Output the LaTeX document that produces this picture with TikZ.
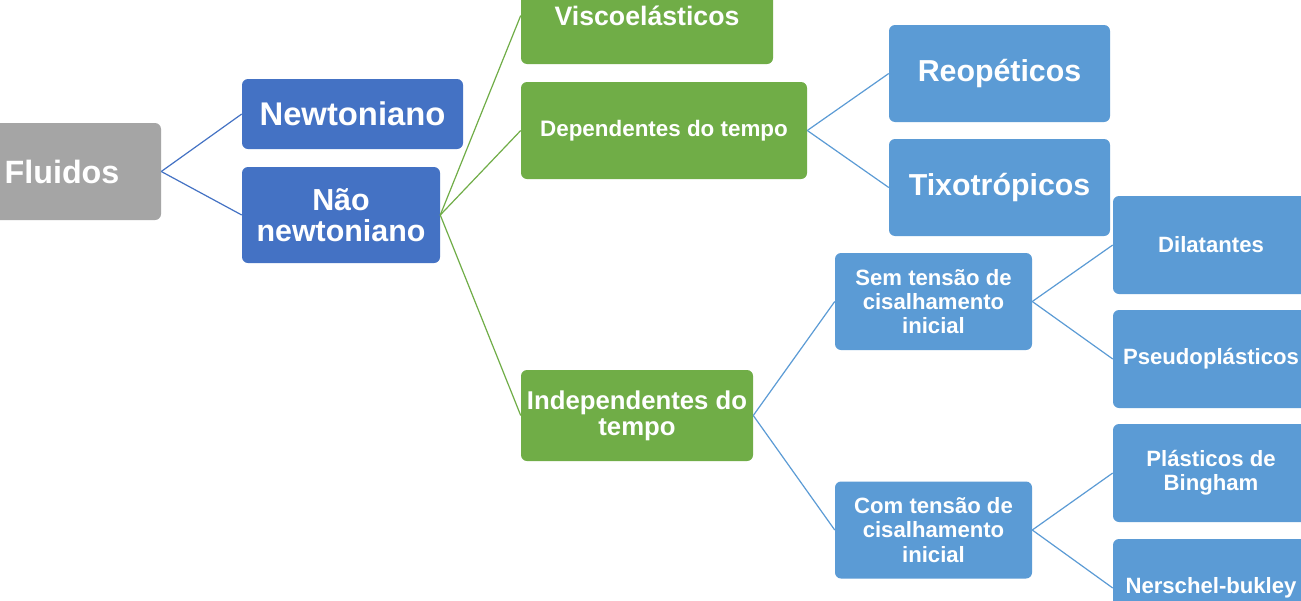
\documentclass[tikz,border=0pt]{standalone}
\usepackage{fontspec}
\setmainfont{Liberation Sans}
\definecolor{cgray}{HTML}{A5A5A5}
\definecolor{cdblue}{HTML}{4472C4}
\definecolor{cgreen}{HTML}{70AD47}
\definecolor{clblue}{HTML}{5B9BD5}
\begin{document}
\begin{tikzpicture}[x=0.75pt,y=-0.75pt,
  bx/.style={rounded corners=4.5pt, inner sep=0pt, text=white, align=center, font=\bfseries},
  gray box/.style={bx, fill=cgray},
  dblue box/.style={bx, fill=cdblue},
  green box/.style={bx, fill=cgreen},
  lblue box/.style={bx, fill=clblue},
  fmid/.style={font=\bfseries\fontsize{22.75}{24}\selectfont},
  fsmall/.style={font=\bfseries\fontsize{16.6}{18.3}\selectfont},
  conn/.style={line width=0.9pt}
]
\useasboundingbox (0,0) rectangle (1301,600);
\clip (0,0) rectangle (1301,600);
\fill[white] (0,0) rectangle (1301,600);

\node[gray box, font=\bfseries\fontsize{24.2}{26}\selectfont, minimum width=148.5pt, minimum height=72.75pt] (flu) at (62,171.5) {Fluidos};
\node[dblue box, font=\bfseries\fontsize{24.6}{26}\selectfont, minimum width=165.75pt, minimum height=52.5pt] (newt) at (352.5,114) {Newtoniano};
\node[dblue box, font=\bfseries\fontsize{22.8}{23.5}\selectfont, minimum width=148.5pt, minimum height=72pt] (nao) at (341,215) {Não\\newtoniano};

\node[green box, font=\bfseries\fontsize{20}{21}\selectfont, minimum width=189pt, minimum height=72.75pt] (visco) at (647,15.5) {Viscoelásticos};
\node[green box, font=\bfseries\fontsize{16.8}{18}\selectfont, minimum width=214.5pt, minimum height=72.75pt] (dep) at (664,130.5) {Dependentes do tempo};
\node[green box, font=\bfseries\fontsize{19.3}{19.5}\selectfont, minimum width=174pt, minimum height=68.25pt] (indep) at (637,415.5) {Independentes do\\tempo};

\node[lblue box, fmid, minimum width=165.75pt, minimum height=72.75pt] (reo) at (999.5,73.5) {Reopéticos};
\node[lblue box, fmid, minimum width=165.75pt, minimum height=72.75pt] (tixo) at (999.5,187.5) {Tixotrópicos};

\node[lblue box, fsmall, minimum width=147.75pt, minimum height=72.75pt] (sem) at (933.5,301.5) {Sem tensão de\\cisalhamento\\inicial};
\node[lblue box, fsmall, minimum width=147.75pt, minimum height=72.75pt] (com) at (933.5,530) {Com tensão de\\cisalhamento\\inicial};

\node[lblue box, fsmall, minimum width=147pt, minimum height=73.5pt] (dil) at (1211,245) {Dilatantes};
\node[lblue box, fsmall, minimum width=147pt, minimum height=73.5pt] (pseudo) at (1211,359) {Pseudoplásticos};
\node[lblue box, fsmall, minimum width=147pt, minimum height=73.5pt] (bing) at (1211,473) {Plásticos de\\Bingham};
\node[lblue box, fsmall, minimum width=147pt, minimum height=73.5pt] (ners) at (1211,588) {Nerschel-bukley};

\draw[conn, cdblue] (flu.east) -- (newt.west);
\draw[conn, cdblue] (flu.east) -- (nao.west);
\draw[conn, cgreen] (nao.east) -- (visco.west);
\draw[conn, cgreen] (nao.east) -- (dep.west);
\draw[conn, cgreen] (nao.east) -- (indep.west);
\draw[conn, clblue] (dep.east) -- (reo.west);
\draw[conn, clblue] (dep.east) -- (tixo.west);
\draw[conn, clblue] (indep.east) -- (sem.west);
\draw[conn, clblue] (indep.east) -- (com.west);
\draw[conn, clblue] (sem.east) -- (dil.west);
\draw[conn, clblue] (sem.east) -- (pseudo.west);
\draw[conn, clblue] (com.east) -- (bing.west);
\draw[conn, clblue] (com.east) -- (ners.west);
\end{tikzpicture}
\end{document}
